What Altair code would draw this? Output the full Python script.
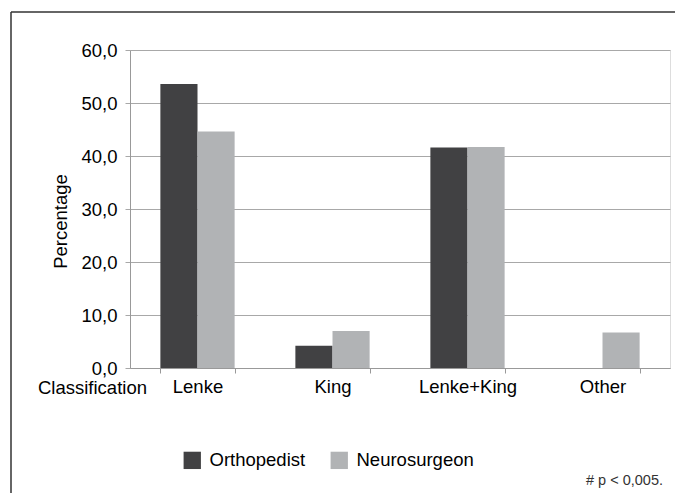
import altair as alt
import pandas as pd

categories = ["Lenke", "King", "Lenke+King", "Other"]
groups = ["Orthopedist", "Neurosurgeon"]
orthopedist = [53.6, 4.2, 41.6, 0.0]
neurosurgeon = [44.6, 7.0, 41.7, 6.7]
colors = ["#414143", "#b1b3b5"]
y_ticks = [0, 10, 20, 30, 40, 50, 60]

rows = []
for c, o, n in zip(categories, orthopedist, neurosurgeon):
    rows.append({"Classification": c, "Group": groups[0], "Percentage": o})
    rows.append({"Classification": c, "Group": groups[1], "Percentage": n})
df = pd.DataFrame(rows)

FONT = "Liberation Sans"
FS = 18.5

bars = alt.Chart(df).mark_bar().encode(
    x=alt.X("Classification:N", sort=categories,
            scale=alt.Scale(paddingInner=0.45, paddingOuter=0.225),
            axis=alt.Axis(title="Classification", labelAngle=0, tickBand="extent",
                          tickSize=5, labelPadding=4, labelFontSize=FS, labelColor="#000",
                          labelFont=FONT, domainColor="#999", tickColor="#999",
                          titleFont=FONT, titleFontSize=FS, titleFontWeight="normal",
                          titleColor="#000", titleX=-38, titleY=19, titleAlign="center",
                          titleBaseline="middle", titleAnchor="start")),
    xOffset=alt.XOffset("Group:N", sort=groups, scale=alt.Scale(paddingInner=0, paddingOuter=0)),
    y=alt.Y("Percentage:Q", scale=alt.Scale(domain=[0, 60], nice=False),
            axis=alt.Axis(values=y_ticks, title="Percentage",
                          labelExpr="replace(format(datum.value, '.1f'), '.', ',')",
                          tickSize=5, labelPadding=8, labelFontSize=FS, labelFont=FONT,
                          labelColor="#000", domainColor="#999", tickColor="#a8a8a8",
                          gridColor="#a8a8a8", gridWidth=1,
                          titleFont=FONT, titleFontSize=FS, titleFontWeight="normal",
                          titleColor="#000", titleX=-70, titleY=171, titleAngle=-90,
                          titleAlign="center", titleBaseline="middle")),
    color=alt.Color("Group:N", sort=groups,
                    scale=alt.Scale(domain=groups, range=colors),
                    legend=alt.Legend(title=None, orient="none", legendX=53, legendY=401,
                                      direction="horizontal", symbolType="square",
                                      symbolSize=300, symbolStrokeWidth=0, labelFontSize=FS,
                                      labelFont=FONT, labelColor="#000", labelOffset=8,
                                      columnPadding=24, padding=0)),
)

foot_df = pd.DataFrame({"t": ["# p < 0,005."]})
footnote = alt.Chart(foot_df).mark_text(align="right", baseline="alphabetic",
                                        fontSize=14.5, font=FONT, color="#333").encode(
    text="t:N", x=alt.value(533), y=alt.value(435))

border_top = alt.Chart(foot_df).mark_rule(color="#333", strokeWidth=1.5).encode(
    x=alt.value(-119), x2=alt.value(560), y=alt.value(-38))
border_left = alt.Chart(foot_df).mark_rule(color="#333", strokeWidth=1.5).encode(
    x=alt.value(-119), y=alt.value(-38), y2=alt.value(460))

chart = alt.layer(bars, footnote, border_top, border_left).properties(
    width=540, height=318,
    autosize=alt.AutoSizeParams(type="none"),
    padding={"left": 122, "top": 42, "right": 5, "bottom": 125},
).configure_view(stroke=None).configure(background="white")

chart.save("out.html", embed_options={"renderer": "svg", "actions": False})
